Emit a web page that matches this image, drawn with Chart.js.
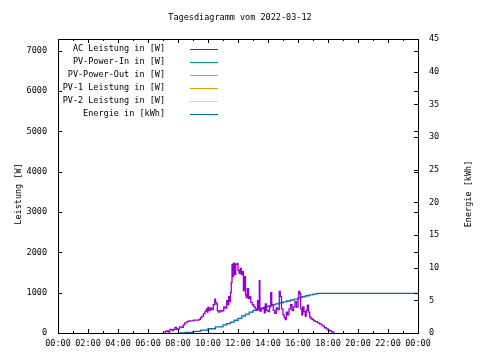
<!DOCTYPE html>
<html>
<head>
<meta charset="utf-8">
<script src="https://cdn.jsdelivr.net/npm/chart.js@4/dist/chart.umd.min.js"></script>
<style>
  body { margin: 0; background: #fff; }
  #wrap { width: 480px; height: 360px; }
</style>
</head>
<body>
<div id="wrap"><canvas id="chart" width="480" height="360"></canvas></div>
<script>
// Tagesdiagramm – Werte
const titel = "Tagesdiagramm vom 2022-03-12";
const serienNamen = ["AC Leistung in [W]", "PV-Power-In in [W]", "PV-Power-Out in [W]",
  "PV-1 Leistung in [W]", "PV-2 Leistung in [W]", "Energie in [kWh]"];
const serienFarben = ["#9400d3", "#009e73", "#56b4e9", "#e69f00", "#f0e442", "#0072b2"];

// Stunden (0..24) und Leistung in W
const acStunde = [7.10, 7.15, 7.25, 7.35, 7.45, 7.6, 7.7, 7.8, 7.9, 8.0, 8.1, 8.25, 8.35, 8.45, 8.6, 8.75,
  8.9, 9.05, 9.25, 9.4, 9.5, 9.6, 9.7, 9.8, 9.9, 9.95, 10.0, 10.05, 10.15, 10.25, 10.35, 10.45, 10.5,
  10.55, 10.62, 10.7, 10.8, 10.9, 11.0, 11.05, 11.15, 11.25, 11.3, 11.38, 11.45, 11.5, 11.55, 11.6,
  11.65, 11.7, 11.78, 11.85, 11.92, 12.0, 12.08, 12.15, 12.22, 12.3, 12.36, 12.42, 12.5, 12.55, 12.62,
  12.7, 12.78, 12.85, 12.95, 13.05, 13.15, 13.25, 13.3, 13.38, 13.42, 13.46, 13.55, 13.65, 13.75, 13.82,
  13.9, 14.0, 14.1, 14.18, 14.25, 14.35, 14.45, 14.55, 14.65, 14.75, 14.82, 14.9, 15.0, 15.08, 15.15,
  15.22, 15.3, 15.4, 15.5, 15.6, 15.7, 15.8, 15.9, 16.0, 16.05, 16.12, 16.18, 16.25, 16.32, 16.4, 16.48,
  16.55, 16.62, 16.7, 16.78, 16.85, 16.95, 17.05, 17.15, 17.3, 17.45, 17.6, 17.75, 17.9, 18.0, 18.1,
  18.2, 18.3, 18.4];
const acLeistung = [0, 40, 50, 20, 90, 60, 90, 140, 90, 100, 150, 140, 200, 250, 290, 300,
  300, 320, 320, 340, 380, 420, 480, 540, 600, 520, 640, 560, 620, 580, 700, 840, 760,
  720, 550, 520, 560, 540, 560, 650, 620, 800, 700, 900, 780, 1000, 1250, 1700,
  1400, 1730, 1450, 1700, 1720, 1550, 1480, 1600, 1450, 1520, 1050, 1400, 950, 880, 1100,
  850, 900, 760, 700, 650, 600, 570, 800, 580, 1300, 540, 600, 620, 500, 720,
  560, 530, 650, 1000, 700, 560, 490, 620, 580, 1030, 900, 600, 450, 380, 330,
  520, 450, 600, 700, 560, 650, 780, 640, 840, 1030, 980, 600, 450, 650, 530, 420,
  560, 690, 520, 400, 360, 330, 300, 280, 250, 220, 175, 130, 100, 70, 60,
  35, 20, 0];

// Energie in kWh (rechte Achse)
const energieStunde = [8.0, 8.5, 9.0, 9.5, 10.0, 10.5, 11.0, 11.25, 11.5, 11.75, 12.0, 12.25, 12.5, 12.75,
  13.0, 13.25, 13.5, 13.75, 14.0, 14.25, 14.5, 14.75, 15.0, 15.25, 15.5, 15.75, 16.0, 16.25, 16.5,
  16.75, 17.0, 17.25, 24.0];
const energieKwh = [0, 0.1, 0.25, 0.45, 0.65, 0.95, 1.25, 1.45, 1.65, 1.95, 2.25, 2.6, 2.9, 3.2,
  3.45, 3.6, 3.8, 4.0, 4.15, 4.3, 4.45, 4.6, 4.75, 4.9, 5.05, 5.2, 5.4, 5.55, 5.7,
  5.85, 5.95, 6.08, 6.08];

// leere Reihen (nur in der Legende)
const pvIn = [], pvOut = [], pv1 = [], pv2 = [];

const xTickStunden = [0, 2, 4, 6, 8, 10, 12, 14, 16, 18, 20, 22, 24];
const yTickWatt = [0, 1000, 2000, 3000, 4000, 5000, 6000, 7000];
const yTickKwh = [0, 5, 10, 15, 20, 25, 30, 35, 40, 45];

const schrift = "'DejaVu Sans Mono', 'Liberation Mono', monospace";
const punkte = (xs, ys) => xs.map((x, i) => ({ x: x, y: ys[i] }));

// Rahmen, Ticks nach innen, Legende und Achsentitel im gnuplot-Stil
const gnuplotStil = {
  id: "gnuplotStil",
  afterDraw(chart) {
    const ctx = chart.ctx;
    const a = chart.chartArea;
    const sx = chart.scales.x, sy = chart.scales.y, sy2 = chart.scales.y2;
    ctx.save();
    ctx.strokeStyle = "#000";
    ctx.lineWidth = 1;
    ctx.beginPath();
    for (let h = 0; h <= 24; h++) {
      const px = Math.round(sx.getPixelForValue(h)) + 0.5;
      const len = h % 2 === 0 ? 4 : 2;
      ctx.moveTo(px, a.bottom); ctx.lineTo(px, a.bottom - len);
      ctx.moveTo(px, a.top); ctx.lineTo(px, a.top + len);
    }
    yTickWatt.forEach(v => {
      const py = Math.round(sy.getPixelForValue(v)) + 0.5;
      ctx.moveTo(a.left, py); ctx.lineTo(a.left + 4, py);
      ctx.moveTo(a.right, py); ctx.lineTo(a.right - 4, py);
    });
    yTickKwh.forEach(v => {
      const py = Math.round(sy2.getPixelForValue(v)) + 0.5;
      ctx.moveTo(a.right, py); ctx.lineTo(a.right - 4, py);
    });
    ctx.stroke();
    ctx.strokeRect(Math.round(a.left) + 0.5, Math.round(a.top) + 0.5,
      Math.round(a.right - a.left), Math.round(a.bottom - a.top));

    // Legende
    ctx.font = "8.5px " + schrift;
    ctx.fillStyle = "#000";
    ctx.textAlign = "right";
    ctx.textBaseline = "middle";
    chart.data.datasets.forEach((ds, i) => {
      const y = 49 + i * 13;
      ctx.fillText(ds.label, 165, y);
      ctx.strokeStyle = ds.borderColor;
      ctx.beginPath();
      ctx.moveTo(190, y + 0.5); ctx.lineTo(218, y + 0.5);
      ctx.stroke();
    });

    // Achsentitel
    ctx.textAlign = "center";
    ctx.fillStyle = "#000";
    ctx.translate(19, 194);
    ctx.rotate(-Math.PI / 2);
    ctx.fillText("Leistung [W]", 0, 0);
    ctx.rotate(Math.PI / 2);
    ctx.translate(469 - 19, 0);
    ctx.rotate(-Math.PI / 2);
    ctx.fillText("Energie [kWh]", 0, 0);
    ctx.restore();
  }
};

new Chart(document.getElementById("chart"), {
  type: "line",
  data: {
    datasets: [
      { label: serienNamen[0], data: punkte(acStunde, acLeistung), borderColor: serienFarben[0], yAxisID: "y", stepped: true },
      { label: serienNamen[1], data: pvIn, borderColor: serienFarben[1], yAxisID: "y" },
      { label: serienNamen[2], data: pvOut, borderColor: serienFarben[2], yAxisID: "y" },
      { label: serienNamen[3], data: pv1, borderColor: serienFarben[3], yAxisID: "y" },
      { label: serienNamen[4], data: pv2, borderColor: serienFarben[4], yAxisID: "y" },
      { label: serienNamen[5], data: punkte(energieStunde, energieKwh), borderColor: serienFarben[5], yAxisID: "y2", stepped: true }
    ]
  },
  options: {
    responsive: false,
    animation: false,
    layout: { padding: 0 },
    elements: {
      point: { radius: 0 },
      line: { borderWidth: 1.3, tension: 0 }
    },
    plugins: {
      legend: { display: false },
      tooltip: { enabled: false },
      title: {
        display: true,
        text: titel,
        color: "#000",
        font: { family: schrift, size: 8.5, weight: "normal", lineHeight: 1 },
        padding: { top: 14, bottom: 16.5 }
      }
    },
    scales: {
      x: {
        type: "linear",
        min: 0, max: 24,
        afterFit: s => { s.height = 27; },
        afterBuildTicks: s => { s.ticks = xTickStunden.map(v => ({ value: v })); },
        grid: { display: false, drawTicks: false },
        border: { display: false },
        ticks: {
          color: "#000", padding: 6, maxRotation: 0, autoSkip: false,
          font: { family: schrift, size: 8.5 },
          callback: v => String(v % 24).padStart(2, "0") + ":00"
        }
      },
      y: {
        position: "left",
        min: 0, max: 7290,
        afterFit: s => { s.width = 58; },
        afterBuildTicks: s => { s.ticks = yTickWatt.map(v => ({ value: v })); },
        grid: { display: false, drawTicks: false },
        border: { display: false },
        ticks: { color: "#000", padding: 11, font: { family: schrift, size: 8.5 }, callback: v => String(v) }
      },
      y2: {
        position: "right",
        min: 0, max: 45,
        afterFit: s => { s.width = 62; },
        afterBuildTicks: s => { s.ticks = yTickKwh.map(v => ({ value: v })); },
        grid: { display: false, drawTicks: false },
        border: { display: false },
        ticks: { color: "#000", padding: 11, font: { family: schrift, size: 8.5 }, callback: v => String(v) }
      }
    }
  },
  plugins: [gnuplotStil]
});
</script>
</body>
</html>
